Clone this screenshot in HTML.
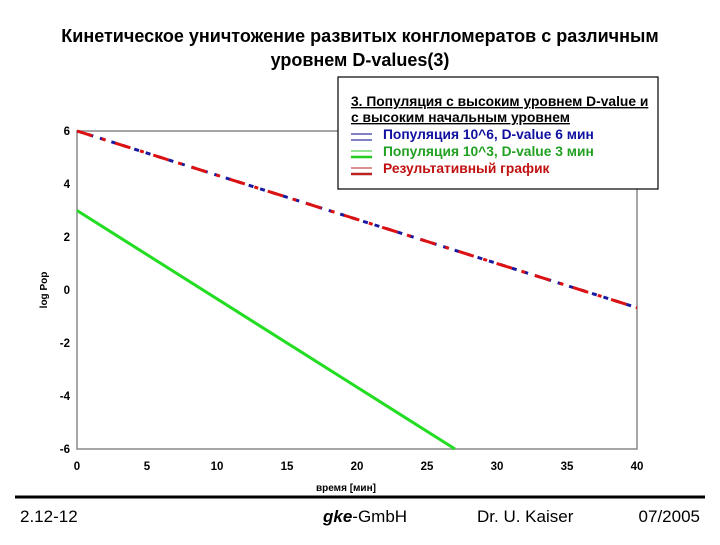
<!DOCTYPE html>
<html><head><meta charset="utf-8"><style>
body{margin:0;background:#fff;width:720px;height:540px;overflow:hidden;font-family:"Liberation Sans","DejaVu Sans",sans-serif}
</style></head><body>
<svg width="720" height="540" xmlns="http://www.w3.org/2000/svg" font-family="Liberation Sans, DejaVu Sans, sans-serif">
<text x="360" y="42" text-anchor="middle" font-size="18" font-weight="bold">Кинетическое уничтожение развитых конгломератов с различным</text>
<text x="360" y="66" text-anchor="middle" font-size="18" font-weight="bold">уровнем D-values(3)</text>
<rect x="77" y="131" width="560" height="318" fill="none" stroke="#888" stroke-width="1.5"/>
<g id="yticks"></g><g id="xticks"></g><g id="series"></g>
<text x="316" y="491" font-size="10" font-weight="bold" text-anchor="start">время [мин]</text>
<text transform="translate(47,290) rotate(-90)" font-size="10" font-weight="bold" text-anchor="middle">log Pop</text>
<g>
<rect x="338" y="77" width="320" height="112" fill="#fff" stroke="#000" stroke-width="1.2"/>
<text x="351" y="106" font-size="13.8" font-weight="bold" text-decoration="underline">3. Популяция с высоким уровнем D-value и</text>
<text x="351" y="122" font-size="13.8" font-weight="bold" text-decoration="underline">с высоким начальным уровнем</text>
<g><line x1="351" y1="134" x2="372" y2="134" stroke="#00008b"/><line x1="351" y1="140" x2="372" y2="140" stroke="#00008b"/><text x="383" y="139" font-size="13.8" font-weight="bold" fill="#1010a0">Популяция 10^6, D-value 6 мин</text></g>
<g><line x1="351" y1="151" x2="372" y2="151" stroke="#2c2"/><line x1="351" y1="157" x2="372" y2="157" stroke="#2c2" stroke-width="2.5"/><text x="383" y="156" font-size="13.8" font-weight="bold" fill="#22a022">Популяция 10^3, D-value 3 мин</text></g>
<g><line x1="351" y1="168" x2="372" y2="168" stroke="#b22"/><line x1="351" y1="174" x2="372" y2="174" stroke="#b22" stroke-width="2.5"/><text x="383" y="173" font-size="13.8" font-weight="bold" fill="#c01010">Результативный график</text></g>
</g>
<line x1="15" y1="497" x2="705" y2="497" stroke="#000" stroke-width="3"/>
<text x="20" y="522" font-size="17">2.12-12</text>
<text x="323" y="522" font-size="17"><tspan font-weight="bold" font-style="italic">gke</tspan>-GmbH</text>
<text x="477" y="522" font-size="17">Dr. U. Kaiser</text>
<text x="700" y="522" font-size="17" text-anchor="end">07/2005</text>
</svg>
<script>
const yTicks=[6,4,2,0,-2,-4,-6];
const xTicks=[0,5,10,15,20,25,30,35,40];
const blueX=[0,40];
const blueY=[6,-0.667];
const greenX=[0,27];
const greenY=[3,-6];
const redX=[0,40];
const redY=[6,-0.667];
const NS="http://www.w3.org/2000/svg";
const sx=v=>77+v*(560/40);
const sy=v=>290-v*(318/12);
function mk(t,a,p){const e=document.createElementNS(NS,t);for(const k in a)e.setAttribute(k,a[k]);p.appendChild(e);return e;}
const yg=document.getElementById('yticks');
yTicks.forEach(v=>{const t=mk('text',{x:70,y:sy(v)+4,'text-anchor':'end','font-size':11.5,'font-weight':'bold'},yg);t.textContent=v;

});
const xg=document.getElementById('xticks');
xTicks.forEach(v=>{const t=mk('text',{x:sx(v),y:470,'text-anchor':'middle','font-size':11.5,'font-weight':'bold'},xg);t.textContent=v;

});
const sg=document.getElementById('series');
function line(X,Y,st,name){const pts=X.map((x,i)=>sx(x)+','+sy(Y[i])).join(' ');const p=mk('polyline',Object.assign({points:pts,fill:'none'},st),sg);

}
line(greenX,greenY,{stroke:'#22dd22','stroke-width':3},'series-green');
line(blueX,blueY,{stroke:'#1a1aa0','stroke-width':3,'stroke-dasharray':'5 7'},'series-blue');
line(redX,redY,{stroke:'#dd1111','stroke-width':3,'stroke-dasharray':'16 10 4 10'},'series-red');
</script>
</body></html>
